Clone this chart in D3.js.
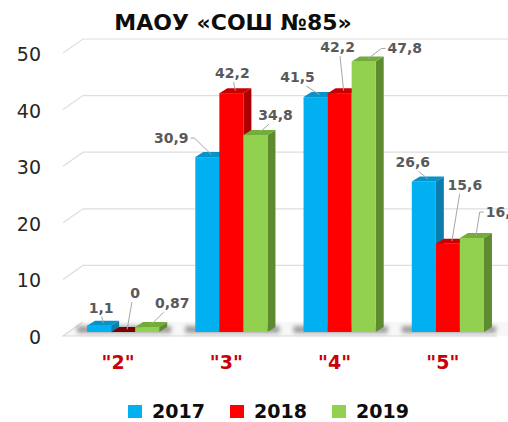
<!DOCTYPE html>
<html>
<head>
<meta charset="utf-8">
<script src="https://cdn.jsdelivr.net/npm/d3@7"></script>
<style>
  html, body { margin: 0; padding: 0; background: #fff; }
  svg { display: block; }
</style>
</head>
<body>
<svg width="508" height="422"></svg>
<script>
var title = "МАОУ «СОШ №85»";
var categories = ['"2"', '"3"', '"4"', '"5"'];
var years = ["2017", "2018", "2019"];
var values2017 = [1.1, 30.9, 41.5, 26.6];
var values2018 = [0, 42.2, 42.2, 15.6];
var values2019 = [0.87, 34.8, 47.8, 16.6];
var valueText2017 = ["1,1", "30,9", "41,5", "26,6"];
var valueText2018 = ["0", "42,2", "42,2", "15,6"];
var valueText2019 = ["0,87", "34,8", "47,8", "16,6"];
var yTicks = [0, 10, 20, 30, 40, 50];

// where each data label sits, relative to the top of its bar [dx, dy]
var labelNudge = [
  [[2, -18], [12, -39], [25, -24]],
  [[-36, -19], [1, -20], [20, -20]],
  [[-18, -20], [-2, -46], [41, -13]],
  [[-11, -19], [17, -59], [31, -26]]
];

var colors = {
  "2017": { front: "#00b0f0", side: "#0a7dad", top: "#0792c9" },
  "2018": { front: "#ff0000", side: "#ad0000", top: "#c80000" },
  "2019": { front: "#92d050", side: "#5e8b30", top: "#72ad3c" }
};

var series = years.map(function(y, i) {
  return {
    year: y,
    values: [values2017, values2018, values2019][i],
    texts: [valueText2017, valueText2018, valueText2019][i]
  };
});

var svg = d3.select("svg");
var W = 508, H = 422;

// 3D depth offsets
var dx = 8, dy = -5;
var backX = 20, backY = -14;

var y = d3.scaleLinear().domain([0, 50]).range([336, 53]);
var x0 = d3.scaleBand().domain(categories).range([69, 502])
  .paddingInner(1 / 3).paddingOuter(1 / 6);
var x1 = d3.scaleBand().domain(years).range([0, x0.bandwidth()]);
var barBase = y(0) - 4;
function barTop(v) { return barBase - (y(0) - y(v)); }

var defs = svg.append("defs");
defs.append("filter").attr("id", "blur")
  .attr("x", "-20%").attr("y", "-100%").attr("width", "140%").attr("height", "300%")
  .append("feGaussianBlur").attr("stdDeviation", 2);

// floor
var axisLeft = 63;
svg.append("path")
  .attr("d", "M" + axisLeft + "," + y(0) + "L" + (axisLeft + backX) + "," + (y(0) + backY) +
    "L" + W + "," + (y(0) + backY) + "L" + W + "," + y(0) + "Z")
  .attr("fill", "#f7f7f7");
svg.append("path")
  .attr("d", "M" + (axisLeft + backX) + "," + (y(0) + backY) + "L" + axisLeft + "," + y(0) + "L497," + y(0))
  .attr("fill", "none").attr("stroke", "#d9d9d9").attr("stroke-width", 1.2);

// gridlines with the diagonal wall edge
svg.selectAll(".grid")
  .data(yTicks.filter(function(d) { return d > 0; }))
  .enter().append("path")
    .attr("class", "grid")
    .attr("fill", "none")
    .attr("stroke", "#dedede")
    .attr("stroke-width", 1.2)
    .attr("d", function(d) {
      return "M" + axisLeft + "," + y(d) + "L" + (axisLeft + backX) + "," + (y(d) + backY) +
        "L" + W + "," + (y(d) + backY);
    });

// y tick labels
svg.selectAll(".ytick")
  .data(yTicks)
  .enter().append("text")
    .attr("class", "ytick")
    .attr("x", 41)
    .attr("y", function(d) { return y(d) + 8; })
    .attr("text-anchor", "end")
    .attr("font-family", "DejaVu Sans, Verdana, sans-serif")
    .attr("font-size", 19)
    .attr("fill", "#262626")
    .text(function(d) { return d; });

// shadows at the base of each group
svg.selectAll(".shadow")
  .data(categories)
  .enter().append("rect")
    .attr("class", "shadow")
    .attr("x", function(d) { return x0(d) - 10; })
    .attr("y", barBase - 6)
    .attr("width", x0.bandwidth() + dx + 14)
    .attr("height", 7)
    .attr("fill", "#444")
    .attr("opacity", 0.5)
    .attr("filter", "url(#blur)");

// bars
var groups = svg.selectAll(".group")
  .data(categories)
  .enter().append("g")
    .attr("class", "group")
    .attr("transform", function(d) { return "translate(" + x0(d) + ",0)"; });

var bars = groups.selectAll(".bar")
  .data(function(d, i) {
    return series.map(function(s, j) {
      return { cat: d, ci: i, si: j, year: s.year, value: s.values[i], text: s.texts[i] };
    });
  })
  .enter().append("g")
    .attr("class", "bar");

bars.append("path")
  .attr("fill", function(d) { return colors[d.year].side; })
  .attr("d", function(d) {
    var xr = x1(d.year) + x1.bandwidth(), t = barTop(d.value);
    return "M" + xr + "," + t + "L" + (xr + dx) + "," + (t + dy) +
      "L" + (xr + dx) + "," + (barBase + dy) + "L" + xr + "," + barBase + "Z";
  });
bars.append("rect")
  .attr("fill", function(d) { return colors[d.year].front; })
  .attr("x", function(d) { return x1(d.year); })
  .attr("y", function(d) { return barTop(d.value); })
  .attr("width", x1.bandwidth())
  .attr("height", function(d) { return barBase - barTop(d.value); });
bars.append("path")
  .attr("fill", function(d) { return d.value === 0 ? "#7a0000" : colors[d.year].top; })
  .attr("d", function(d) {
    var xl = x1(d.year), xr = xl + x1.bandwidth(), t = barTop(d.value);
    return "M" + xl + "," + t + "L" + xr + "," + t + "L" + (xr + dx) + "," + (t + dy) +
      "L" + (xl + dx) + "," + (t + dy) + "Z";
  });

// data labels with leader lines
var labels = [];
bars.each(function(d) {
  var cx = x0(d.cat) + x1(d.year) + x1.bandwidth() / 2;
  var t = barTop(d.value);
  var n = labelNudge[d.ci][d.si];
  labels.push({ text: d.text, bx: cx + dx / 2, by: t + dy / 2, lx: cx + n[0], ly: t + n[1] });
});

var labelLayer = svg.append("g");
labelLayer.selectAll(".leader")
  .data(labels)
  .enter().append("path")
    .attr("class", "leader")
    .attr("fill", "none")
    .attr("stroke", "#a6a6a6")
    .attr("stroke-width", 1)
    .attr("d", function(d) {
      var hw = d.text.length * 4.3 + 2;
      var sx, sy;
      if (d.lx - d.bx > 26) { sx = d.lx - hw; sy = d.ly; return "M" + (sx) + "," + sy + "L" + (sx - 4) + "," + sy + "L" + d.bx + "," + d.by; }
      if (d.bx - d.lx > 26) { sx = d.lx + hw; sy = d.ly; return "M" + sx + "," + sy + "L" + (sx + 4) + "," + sy + "L" + d.bx + "," + d.by; }
      sx = d.lx + (d.bx - d.lx) * 0.4; sy = d.ly + 9;
      if (d.by - sy < 3) return null;
      return "M" + sx + "," + sy + "L" + d.bx + "," + d.by;
    });
labelLayer.selectAll(".dlabel")
  .data(labels)
  .enter().append("text")
    .attr("class", "dlabel")
    .attr("x", function(d) { return d.lx; })
    .attr("y", function(d) { return d.ly + 5; })
    .attr("text-anchor", "middle")
    .attr("font-family", "DejaVu Sans, Verdana, sans-serif")
    .attr("font-weight", "bold")
    .attr("font-size", 14)
    .attr("fill", "#595959")
    .text(function(d) { return d.text; });

// category labels
svg.selectAll(".cat")
  .data(categories)
  .enter().append("text")
    .attr("class", "cat")
    .attr("x", function(d) { return x0(d) + x0.bandwidth() / 2 - 5; })
    .attr("y", 369)
    .attr("text-anchor", "middle")
    .attr("font-family", "DejaVu Sans, Verdana, sans-serif")
    .attr("font-weight", "bold")
    .attr("font-size", 19)
    .attr("fill", "#c8000a")
    .text(function(d) { return d; });

// title
svg.append("text")
  .attr("x", 233)
  .attr("y", 30)
  .attr("text-anchor", "middle")
  .attr("font-family", "DejaVu Sans, Verdana, sans-serif")
  .attr("font-weight", "bold")
  .attr("font-size", 22)
  .attr("fill", "#0d0d0d")
  .text(title);

// legend
var legend = svg.selectAll(".legend")
  .data(years)
  .enter().append("g")
    .attr("class", "legend")
    .attr("transform", function(d, i) { return "translate(" + (128 + i * 102) + ",405)"; });
legend.append("rect")
  .attr("width", 14).attr("height", 13)
  .attr("fill", function(d) { return colors[d].front; });
legend.append("text")
  .attr("x", 24).attr("y", 13)
  .attr("font-family", "DejaVu Sans, Verdana, sans-serif")
  .attr("font-weight", "bold")
  .attr("font-size", 19)
  .attr("fill", "#0d0d0d")
  .text(function(d) { return d; });
</script>
</body>
</html>
